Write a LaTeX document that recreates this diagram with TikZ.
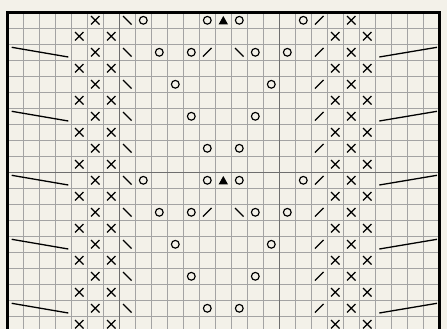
\documentclass[tikz,border=0pt]{standalone}
\definecolor{bg}{HTML}{F3F1E9}
\definecolor{gridc}{HTML}{A3A3A3}
\definecolor{boldc}{HTML}{6E6E6E}
\begin{document}
\begin{tikzpicture}[x=1pt,y=-1pt,
  sym/.style={black,line width=1.25pt},
  thinline/.style={gridc,line width=1.1pt},
  boldline/.style={boldc,line width=1.3pt},
  sideline/.style={black,line width=1.3pt},
  pics/kx/.style={code={\draw[sym] (-4.2,-4.2)--(4.2,4.2) (-4.2,4.2)--(4.2,-4.2);}},
  pics/ko/.style={code={\draw[sym,line width=1.15pt] (0,0) circle[radius=3.9];}},
  pics/kbs/.style={code={\draw[sym] (-4.3,-4.3)--(4.3,4.3);}},
  pics/kfs/.style={code={\draw[sym] (-4.3,4.3)--(4.3,-4.3);}},
  pics/ktri/.style={code={\fill (0,-4.3)--(4.7,4.1)--(-4.7,4.1)--cycle;}}]
\useasboundingbox (0,0) rectangle (447,329);
\fill[bg] (0,0) rectangle (447,329);
\clip (0,0) rectangle (447,329);
% grid
\foreach \k in {1,...,26} \draw[thinline] ({7.3+16*\k},12.3) -- ++(0,330);
\foreach \k in {1,...,20} \draw[thinline] (7.3,{12.3+16*\k}) -- ++(432,0);
\foreach \k in {7,17} \draw[boldline] ({7.3+16*\k},12.3) -- ++(0,330);
\foreach \k in {10,20} \draw[boldline] (7.3,{12.3+16*\k}) -- ++(432,0);
% border
\draw[black,line width=2.7pt,line join=miter] (7.3,345) -- (7.3,12.3) -- (439.6,12.3) -- (439.6,345);
% crosses
\foreach \r in {1,3,...,19} \foreach \c in {4,6,20,22} \pic at ({15.3+16*\c},{20.3+16*\r}) {kx};
\foreach \r in {0,2,...,18} {
  \foreach \c in {5,21} \pic at ({15.3+16*\c},{20.3+16*\r}) {kx};
  \pic at ({15.3+16*7},{20.3+16*\r}) {kbs};
  \pic at ({15.3+16*19},{20.3+16*\r}) {kfs};
}
% rows 0 and 10
\foreach \r in {0,10} {
  \foreach \c in {8,12,14,18} \pic at ({15.3+16*\c},{20.3+16*\r}) {ko};
  \pic at ({15.3+16*13},{20.3+16*\r}) {ktri};
}
% rows 2 and 12
\foreach \r in {2,12} {
  \foreach \c in {9,11,15,17} \pic at ({15.3+16*\c},{20.3+16*\r}) {ko};
  \pic at ({15.3+16*12},{20.3+16*\r}) {kfs};
  \pic at ({15.3+16*14},{20.3+16*\r}) {kbs};
}
\foreach \r in {4,14} \foreach \c in {10,16} \pic at ({15.3+16*\c},{20.3+16*\r}) {ko};
\foreach \r in {6,16} \foreach \c in {11,15} \pic at ({15.3+16*\c},{20.3+16*\r}) {ko};
\foreach \r in {8,18} \foreach \c in {12,14} \pic at ({15.3+16*\c},{20.3+16*\r}) {ko};
% side lines
\foreach \r in {2,6,10,14,18} {
  \draw[sideline] (11.7,{20.3+16*\r-5}) -- (68.3,{20.3+16*\r+4.7});
  \draw[sideline] (379.3,{20.3+16*\r+4.7}) -- (437,{20.3+16*\r-5});
}
\end{tikzpicture}
\end{document}
